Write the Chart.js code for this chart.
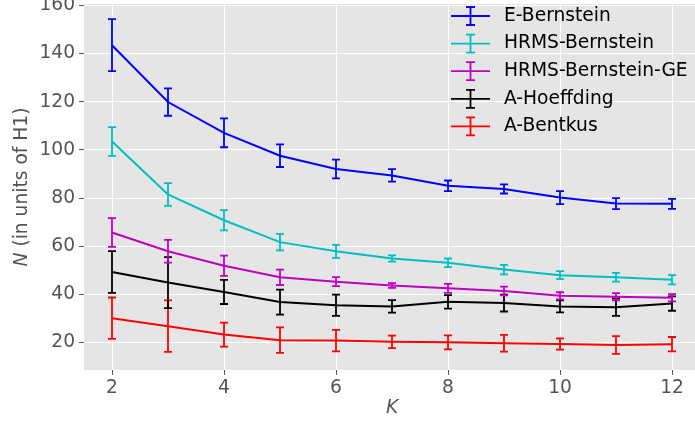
<!DOCTYPE html>
<html>
<head>
<meta charset="utf-8">
<script src="https://cdn.jsdelivr.net/npm/chart.js@4.4.0/dist/chart.umd.min.js"></script>
<style>
  html, body { margin: 0; padding: 0; background: #fff; overflow: hidden; }
  #wrap { width: 700px; height: 423px; position: relative; }
</style>
</head>
<body>
<div id="wrap"><canvas id="chart" width="700" height="423"></canvas></div>
<script>
// K values on the x axis
const kValues = [2, 3, 4, 5, 6, 7, 8, 9, 10, 11, 12];
const xTicks = [2, 4, 6, 8, 10, 12];
const yTicks = [20, 40, 60, 80, 100, 120, 140, 160];

const seriesNames = ['E-Bernstein', 'HRMS-Bernstein', 'HRMS-Bernstein-GE', 'A-Hoeffding', 'A-Bentkus'];
const seriesColors = ['#0000ff', '#00bfbf', '#bf00bf', '#000000', '#ff0000'];

// means
const eBernstein     = [143.5, 119.9, 107.1, 97.6, 92.1, 89.4, 85.1, 83.8, 80.2, 77.7, 77.6];
const hrmsBernstein  = [103.5, 81.5, 70.8, 61.7, 57.9, 54.9, 53.1, 50.3, 48.0, 47.1, 46.1];
const hrmsBernGE     = [65.7, 57.9, 51.9, 47.1, 45.3, 43.7, 42.5, 41.4, 39.4, 39.0, 38.6];
const aHoeffding     = [49.3, 44.9, 41.0, 36.8, 35.5, 35.0, 36.9, 36.4, 35.0, 34.7, 36.2];
const aBentkus       = [30.1, 26.8, 23.3, 21.0, 20.8, 20.3, 20.1, 19.7, 19.4, 19.0, 19.3];

// half widths of the error bars
const eBernsteinErr    = [10.8, 5.7, 6.0, 4.7, 3.9, 2.6, 2.2, 1.9, 2.7, 2.3, 2.1];
const hrmsBernsteinErr = [6.0, 4.7, 4.2, 3.4, 2.7, 1.3, 1.8, 2.0, 1.7, 1.8, 1.9];
const hrmsBernGEErr    = [6.0, 4.7, 4.2, 3.2, 1.9, 1.0, 1.9, 1.8, 1.5, 1.5, 1.5];
const aHoeffdingErr    = [8.7, 10.6, 5.0, 5.2, 4.4, 2.6, 2.8, 3.5, 2.5, 3.6, 3.0];
const aBentkusErr      = [8.6, 10.7, 5.0, 5.3, 4.5, 2.6, 2.9, 3.5, 2.3, 3.7, 3.0];

const allMeans = [eBernstein, hrmsBernstein, hrmsBernGE, aHoeffding, aBentkus];
const allErrs = [eBernsteinErr, hrmsBernsteinErr, hrmsBernGEErr, aHoeffdingErr, aBentkusErr];

const FONT = 'DejaVu Sans';
const FS = 18.67;

// draws vertical error bars with caps using the chart scales
const errorBarPlugin = {
  id: 'errorBars',
  afterDatasetDraw(chart, args) {
    const ctx = chart.ctx;
    const yScale = chart.scales.y;
    const ds = chart.data.datasets[args.index];
    const meta = args.meta;
    const area = chart.chartArea;
    ctx.save();
    ctx.beginPath();
    ctx.rect(area.left, area.top, area.right - area.left, area.bottom - area.top);
    ctx.clip();
    ctx.strokeStyle = ds.borderColor;
    ctx.lineWidth = 1.8;
    meta.data.forEach((pt, i) => {
      const v = ds.data[i].y;
      const e = ds.errors[i];
      const top = yScale.getPixelForValue(v + e);
      const bot = yScale.getPixelForValue(v - e);
      ctx.beginPath();
      ctx.moveTo(pt.x, top);
      ctx.lineTo(pt.x, bot);
      ctx.moveTo(pt.x - 4, top);
      ctx.lineTo(pt.x + 4, top);
      ctx.moveTo(pt.x - 4, bot);
      ctx.lineTo(pt.x + 4, bot);
      ctx.stroke();
    });
    ctx.restore();
  }
};

// legend in the upper right and the axis titles
const decoPlugin = {
  id: 'deco',
  afterDraw(chart) {
    const ctx = chart.ctx;
    const area = chart.chartArea;
    ctx.save();
    // legend
    ctx.font = FS + 'px "' + FONT + '"';
    ctx.textBaseline = 'middle';
    ctx.textAlign = 'left';
    seriesNames.forEach((name, i) => {
      const y = 16 + i * 27.6;
      ctx.strokeStyle = seriesColors[i];
      ctx.lineWidth = 1.8;
      ctx.beginPath();
      ctx.moveTo(451, y);
      ctx.lineTo(490, y);
      ctx.moveTo(470.5, y - 9);
      ctx.lineTo(470.5, y + 9);
      ctx.moveTo(466, y - 9);
      ctx.lineTo(475, y - 9);
      ctx.moveTo(466, y + 9);
      ctx.lineTo(475, y + 9);
      ctx.stroke();
      ctx.fillStyle = '#000';
      ctx.fillText(name, 504, y);
    });

    ctx.fillStyle = '#555';
    // x title
    ctx.font = 'italic ' + FS + 'px "' + FONT + '"';
    ctx.textAlign = 'center';
    ctx.fillText('K', 392, 408);

    // y title
    ctx.translate(22, (area.top + area.bottom) / 2);
    ctx.rotate(-Math.PI / 2);
    const partA = 'N';
    const partB = ' (in units of H1)';
    ctx.font = 'italic ' + FS + 'px "' + FONT + '"';
    const wA = ctx.measureText(partA).width;
    ctx.font = FS + 'px "' + FONT + '"';
    const wB = ctx.measureText(partB).width;
    const start = -(wA + wB) / 2;
    ctx.textAlign = 'left';
    ctx.font = 'italic ' + FS + 'px "' + FONT + '"';
    ctx.fillText(partA, start, 0);
    ctx.font = FS + 'px "' + FONT + '"';
    ctx.fillText(partB, start + wA, 0);
    ctx.restore();
  }
};

// plot background
const bgPlugin = {
  id: 'bg',
  beforeDraw(chart) {
    const a = chart.chartArea;
    const ctx = chart.ctx;
    ctx.save();
    ctx.fillStyle = '#e5e5e5';
    ctx.fillRect(a.left, a.top, a.right - a.left, a.bottom - a.top);
    ctx.restore();
  }
};

const datasets = seriesNames.map((name, i) => ({
  label: name,
  data: kValues.map((k, j) => ({ x: k, y: allMeans[i][j] })),
  errors: allErrs[i],
  borderColor: seriesColors[i],
  backgroundColor: seriesColors[i],
  borderWidth: 2,
  pointRadius: 0,
  tension: 0,
  fill: false
}));

const ctx = document.getElementById('chart').getContext('2d');
new Chart(ctx, {
  type: 'line',
  data: { datasets: datasets },
  options: {
    responsive: false,
    animation: false,
    devicePixelRatio: 1,
    layout: { padding: { top: 4, right: 0, left: 0, bottom: 0 } },
    plugins: {
      legend: { display: false },
      tooltip: { enabled: false }
    },
    scales: {
      x: {
        type: 'linear',
        min: 1.5,
        max: 12.5,
        afterBuildTicks: scale => { scale.ticks = xTicks.map(v => ({ value: v })); },
        afterFit: scale => { scale.height = 53; scale.paddingLeft = 0; scale.paddingRight = 0; },
        grid: { color: '#ffffff', lineWidth: 1, tickColor: '#555', tickLength: 5, tickWidth: 1 },
        border: { display: false },
        ticks: { color: '#555', font: { family: FONT, size: FS }, padding: 2, maxRotation: 0 }
      },
      y: {
        min: 8.6,
        max: 160.6,
        afterBuildTicks: scale => { scale.ticks = yTicks.map(v => ({ value: v })); },
        afterFit: scale => { scale.width = 84; scale.paddingTop = 0; scale.paddingBottom = 0; },
        grid: { color: '#ffffff', lineWidth: 1, tickColor: '#555', tickLength: 5, tickWidth: 1 },
        border: { display: false },
        ticks: { color: '#555', font: { family: FONT, size: FS }, padding: 4 }
      }
    }
  },
  plugins: [bgPlugin, errorBarPlugin, decoPlugin]
});
</script>
</body>
</html>
